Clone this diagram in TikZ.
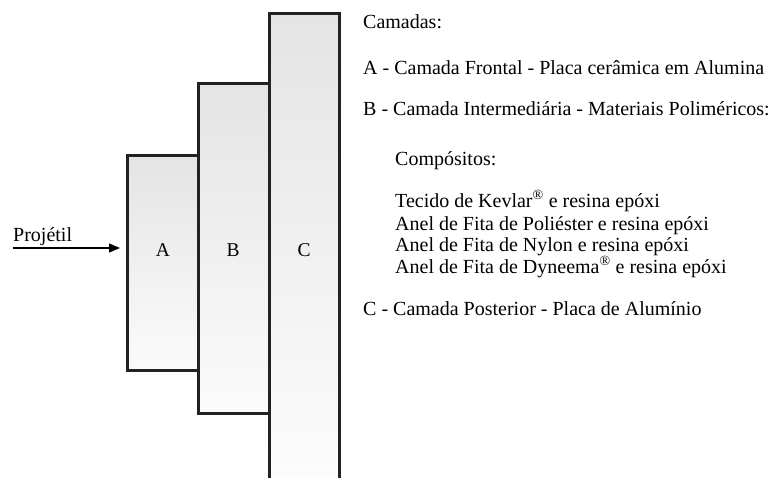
\documentclass[tikz,border=0pt]{standalone}
\usepackage{fontspec}
\setmainfont{Liberation Serif}
\usetikzlibrary{arrows.meta}

\tikzset{
  plate/.style={draw={rgb,255:red,34;green,34;blue,34}, line width=3pt,
    top color={rgb,255:red,228;green,228;blue,228},
    bottom color={rgb,255:red,251;green,251;blue,251}},
  platelabel/.style={font=\fontsize{19.5}{22}\selectfont, inner sep=0pt},
  legend/.style={font=\fontsize{20}{22}\selectfont, anchor=base west, inner sep=0pt},
  shot/.style={line width=1.4pt, -{Triangle[length=11pt,width=9pt]}}
}

\begin{document}
\begin{tikzpicture}[x=1pt, y=-1pt]
  \useasboundingbox (0,0) rectangle (771,477);

  % plate C runs off the bottom edge, so its outline is left open there
  \shade[top color={rgb,255:red,228;green,228;blue,228},
         bottom color={rgb,255:red,252;green,252;blue,252}]
    (269,13) rectangle (339,479);
  \draw[draw={rgb,255:red,34;green,34;blue,34}, line width=3pt]
    (269,479) -- (269,13) -- (339,13) -- (339,479);
  \coordinate (Ctop) at (304,13);

  % plates B and A
  \path[plate] (198,83) rectangle (269,413);
  \path[plate] (127,155) rectangle (198,370);

  % plate letters
  \node[platelabel] (la) at (163,250) {A};
  \node[platelabel] (lb) at (233,250) {B};
  \node[platelabel] (lc) at (304,250) {C};

  % incoming projectile
  \coordinate (shotstart) at (13,248);
  \coordinate (shotend) at (120,248);
  \draw[shot] (shotstart) -- (shotend);
  \node[legend] (proj) at (13,241) {Projétil};

  % legend
  \node[legend] (t0) at (363,28)  {Camadas:};
  \node[legend] (t1) at (363,74)  {A - Camada Frontal - Placa cerâmica em Alumina};
  \node[legend] (t2) at (363,115) {B - Camada Intermediária - Materiais Poliméricos:};
  \node[legend] (t3) at (395,165) {Compósitos:};
  \node[legend] (t4) at (395,207) {Tecido de Kevlar\textsuperscript{®} e resina epóxi};
  \node[legend] (t5) at (395,230) {Anel de Fita de Poliéster e resina epóxi};
  \node[legend] (t6) at (395,251) {Anel de Fita de Nylon e resina epóxi};
  \node[legend] (t7) at (395,273) {Anel de Fita de Dyneema\textsuperscript{®} e resina epóxi};
  \node[legend] (t8) at (363,315) {C - Camada Posterior - Placa de Alumínio};
\end{tikzpicture}
\end{document}
